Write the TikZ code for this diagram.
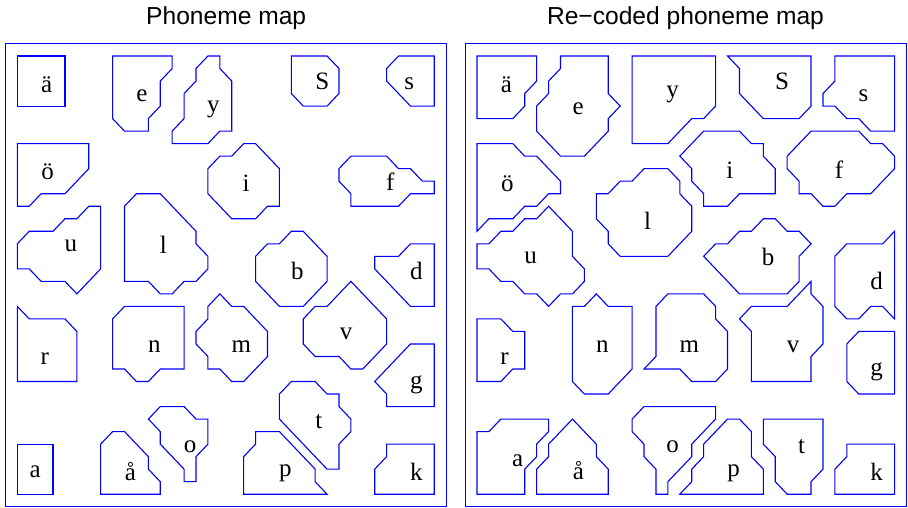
\documentclass[tikz,border=0pt]{standalone}
\usepackage{fontspec}
\setmainfont{Liberation Serif}
\newfontfamily\titlefont{Liberation Sans}
\begin{document}
\begin{tikzpicture}[
  region/.style={draw=blue, line width=1.1pt, line join=miter},
  frame/.style={draw=blue, line width=1.1pt},
  lbl/.style={font=\fontsize{25}{28}\selectfont, inner sep=0pt},
  ttl/.style={font=\titlefont\fontsize{24.6}{28}\selectfont, anchor=base, inner sep=0pt}
]
\useasboundingbox (0,0) rectangle (908pt,-508pt);
\node[ttl] (t1) at (226.2pt,-25pt) {Phoneme map};
\node[ttl] (t2) at (685.5pt,-25pt) {Re−coded phoneme map};
% ---------------- left panel ----------------
\begin{scope}[shift={(17.3pt,-56pt)}, x=11.914pt, y=-12.52pt]
\draw[frame] (-1,-1) rectangle (36,36);
\draw[region] (0,0) rectangle (4,4);
\draw[region] (8,0)--(13,0)--(13,1)--(12,2)--(12,4)--(11,5)--(11,6)--(9,6)--(8,5)--cycle;
\draw[region] (16,0)--(17,0)--(17,1)--(18,2)--(18,6)--(17,6)--(16,7)--(13,7)--(13,6)--(14,5)--(14,3)--(15,2)--(15,1)--cycle;
\draw[region] (23,0)--(26,0)--(27,1)--(27,3)--(26,4)--(24,4)--(23,3)--cycle;
\draw[region] (32,0)--(35,0)--(35,4)--(33,4)--(31,2)--(31,1)--cycle;
\draw[region] (0,7)--(6,7)--(6,9)--(4,11)--(2,11)--(1,12)--(0,12)--cycle;
\draw[region] (17,8)--(18,8)--(19,7)--(20,7)--(22,9)--(22,12)--(21,12)--(20,13)--(18,13)--(16,11)--(16,9)--cycle;
\draw[region] (28,8)--(31,8)--(32,9)--(33,9)--(34,10)--(35,10)--(35,11)--(33,11)--(32,12)--(28,12)--(28,11)--(27,10)--(27,9)--cycle;
\draw[region] (0,15)--(1,14)--(3,14)--(4,13)--(5,13)--(6,12)--(7,12)--(7,17)--(5,19)--(4,18)--(2,18)--(1,17)--(0,17)--cycle;
\draw[region] (9,12)--(10,11)--(12,11)--(15,14)--(15,15)--(16,16)--(16,17)--(15,18)--(14,18)--(13,19)--(12,19)--(11,18)--(9,18)--cycle;
\draw[region] (20,16)--(21,15)--(22,15)--(23,14)--(24,14)--(26,16)--(26,18)--(24,20)--(22,20)--(20,18)--cycle;
\draw[region] (30,16)--(32,16)--(33,15)--(35,15)--(35,20)--(33,20)--(30,17)--cycle;
\draw[region] (0,20)--(1,21)--(4,21)--(5,22)--(5,26)--(0,26)--cycle;
\draw[region] (8,21)--(9,20)--(14,20)--(14,25)--(12,25)--(11,26)--(10,26)--(9,25)--(8,25)--cycle;
\draw[region] (17,19)--(18,20)--(19,20)--(21,22)--(21,24)--(19,26)--(18,26)--(17,25)--(16,25)--(16,24)--(15,23)--(15,22)--(16,21)--(16,20)--cycle;
\draw[region] (28,18)--(31,21)--(31,23)--(29,25)--(28,25)--(27,24)--(25,24)--(24,23)--(24,21)--(25,20)--(26,20)--cycle;
\draw[region] (33,23)--(35,23)--(35,28)--(31,28)--(31,27)--(30,26)--cycle;
\draw[region] (23,26)--(25,26)--(26,27)--(27,27)--(27,28)--(28,29)--(28,30)--(27,31)--(27,33)--(26,33)--(22,29)--(22,27)--cycle;
\draw[region] (11,29)--(12,28)--(14,28)--(15,29)--(16,29)--(16,31)--(15,32)--(15,34)--(14,34)--(14,33)--(12,31)--(12,30)--cycle;
\draw[region] (0,31) rectangle (3,35);
\draw[region] (7,31)--(8,30)--(9,30)--(11,32)--(11,33)--(12,34)--(12,35)--(7,35)--cycle;
\draw[region] (20,30)--(22,30)--(25,33)--(25,34)--(26,35)--(19,35)--(19,32)--(20,31)--cycle;
\draw[region] (31,31)--(35,31)--(35,35)--(30,35)--(30,33)--(31,32)--cycle;
\node[lbl] (La1) at (2.46,2.26) {ä};
\node[lbl] (Le) at (10.45,3.17) {e};
\node[lbl] (Ly) at (16.46,4.24) {y};
\node[lbl] (LS) at (25.6,2.05) {S};
\node[lbl] (Ls) at (32.9,2.24) {s};
\node[lbl] (Lo1) at (2.55,9.25) {ö};
\node[lbl] (Li) at (19.2,10.2) {i};
\node[lbl] (Lf) at (31.3,10.04) {f};
\node[lbl] (Lu) at (4.5,15.2) {u};
\node[lbl] (Ll) at (12.26,15.1) {l};
\node[lbl] (Lb) at (23.5,17.2) {b};
\node[lbl] (Ld) at (33.5,17.2) {d};
\node[lbl] (Lr) at (2.3,24.2) {r};
\node[lbl] (Ln) at (11.5,23.2) {n};
\node[lbl] (Lm) at (18.8,23.2) {m};
\node[lbl] (Lv) at (27.6,22.2) {v};
\node[lbl] (Lg) at (33.5,26.3) {g};
\node[lbl] (Lt) at (25.3,29.2) {t};
\node[lbl] (Lo) at (14.5,31.2) {o};
\node[lbl] (La) at (1.5,33.2) {a};
\node[lbl] (La2) at (9.5,33.2) {å};
\node[lbl] (Lp) at (22.5,33.3) {p};
\node[lbl] (Lk) at (33.5,33.2) {k};
\end{scope}
% ---------------- right panel ----------------
\begin{scope}[shift={(477pt,-56pt)}, x=11.93pt, y=-12.52pt]
\draw[frame] (-1,-1) rectangle (36,36);
\draw[region] (0,0)--(5,0)--(5,2)--(4,3)--(4,4)--(3,5)--(0,5)--cycle;
\draw[region] (7,0)--(11,0)--(11,3)--(12,4)--(11,5)--(11,6)--(9,8)--(7,8)--(5,6)--(5,4)--(6,3)--(6,2)--(7,1)--cycle;
\draw[region] (13,0)--(20,0)--(20,4)--(19,5)--(18,5)--(16,7)--(13,7)--cycle;
\draw[region] (21,0)--(28,0)--(28,4)--(27,5)--(24,5)--(22,3)--(22,1)--cycle;
\draw[region] (30,0)--(35,0)--(35,6)--(33,6)--(32,5)--(31,5)--(30,4)--(29,4)--(29,3)--(30,2)--cycle;
\draw[region] (0,7)--(3,7)--(4,8)--(5,8)--(7,10)--(7,11)--(6,11)--(5,12)--(4,12)--(3,13)--(1,13)--(0,14)--cycle;
\draw[region] (17,8)--(19,6)--(22,6)--(23,7)--(24,7)--(24,8)--(25,9)--(25,11)--(22,11)--(21,12)--(19,12)--(19,11)--(18,10)--(18,9)--cycle;
\draw[region] (26,8)--(28,6)--(32,6)--(33,7)--(34,7)--(35,8)--(35,9)--(33,11)--(31,11)--(30,12)--(29,12)--(28,11)--(27,11)--(27,10)--(26,9)--cycle;
\draw[region] (0,15)--(1,15)--(2,14)--(3,14)--(4,13)--(5,13)--(6,12)--(8,14)--(8,16)--(9,17)--(9,18)--(8,19)--(7,19)--(6,20)--(5,19)--(4,19)--(3,18)--(2,18)--(1,17)--(0,17)--cycle;
\draw[region] (10,11)--(11,11)--(12,10)--(13,10)--(14,9)--(16,9)--(17,10)--(17,11)--(18,12)--(18,14)--(16,16)--(12,16)--(11,15)--(11,14)--(10,13)--cycle;
\draw[region] (19,16)--(20,15)--(21,15)--(22,14)--(23,14)--(24,13)--(25,13)--(26,14)--(27,14)--(28,15)--(27,16)--(27,18)--(26,19)--(22,19)--cycle;
\draw[region] (30,16)--(31,15)--(34,15)--(35,14)--(35,21)--(34,20)--(33,20)--(32,21)--(31,21)--(30,20)--cycle;
\draw[region] (0,21)--(2,21)--(3,22)--(4,22)--(4,25)--(3,25)--(2,26)--(0,26)--cycle;
\draw[region] (8,20)--(9,20)--(10,19)--(11,20)--(13,20)--(13,25)--(11,27)--(9,27)--(8,26)--cycle;
\draw[region] (16,19)--(19,19)--(20,20)--(20,21)--(21,22)--(21,25)--(20,26)--(18,26)--(17,25)--(14,25)--(15,24)--(15,20)--cycle;
\draw[region] (22,21)--(23,20)--(26,20)--(28,18)--(28,19)--(29,20)--(29,23)--(28,24)--(28,26)--(23,26)--(23,22)--cycle;
\draw[region] (31,23)--(32,22)--(35,22)--(35,27)--(32,27)--(31,26)--cycle;
\draw[region] (0,30)--(1,30)--(2,29)--(6,29)--(6,30)--(5,31)--(5,32)--(4,33)--(4,35)--(0,35)--cycle;
\draw[region] (5,33)--(6,32)--(6,31)--(8,29)--(10,31)--(10,32)--(11,33)--(11,35)--(5,35)--cycle;
\draw[region] (14,28)--(20,28)--(20,29)--(18,31)--(18,32)--(16,34)--(16,35)--(15,35)--(15,33)--(14,32)--(14,31)--(13,30)--(13,29)--cycle;
\draw[region] (19,31)--(21,29)--(22,29)--(23,30)--(23,32)--(24,33)--(24,35)--(17,35)--(18,34)--(18,33)--(19,32)--cycle;
\draw[region] (24,29)--(29,29)--(29,33)--(28,34)--(28,35)--(26,35)--(25,34)--(25,32)--(24,31)--cycle;
\draw[region] (31,31)--(35,31)--(35,35)--(30,35)--(30,33)--(31,32)--cycle;
\node[lbl] (Ra1) at (2.46,2.26) {ä};
\node[lbl] (Re) at (8.47,4.18) {e};
\node[lbl] (Ry) at (16.4,3.1) {y};
\node[lbl] (RS) at (25.57,2.05) {S};
\node[lbl] (Rs) at (32.4,3.17) {s};
\node[lbl] (Ri) at (21.2,9.1) {i};
\node[lbl] (Rf) at (30.35,9.1) {f};
\node[lbl] (Ro1) at (2.54,10.2) {ö};
\node[lbl] (Ru) at (4.5,16.1) {u};
\node[lbl] (Rl) at (14.3,13.2) {l};
\node[lbl] (Rb) at (24.4,16.03) {b};
\node[lbl] (Rd) at (33.5,18.0) {d};
\node[lbl] (Rg) at (33.5,25.2) {g};
\node[lbl] (Rv) at (26.5,23.2) {v};
\node[lbl] (Rm) at (17.8,23.2) {m};
\node[lbl] (Rr) at (2.3,24.2) {r};
\node[lbl] (Rn) at (10.5,23.2) {n};
\node[lbl] (Ra) at (3.4,32.3) {a};
\node[lbl] (Ra2) at (8.5,33.1) {å};
\node[lbl] (Ro) at (16.4,31.2) {o};
\node[lbl] (Rp) at (21.5,33.3) {p};
\node[lbl] (Rt) at (27.2,31.2) {t};
\node[lbl] (Rk) at (33.5,33.2) {k};
\end{scope}
\end{tikzpicture}
\end{document}
